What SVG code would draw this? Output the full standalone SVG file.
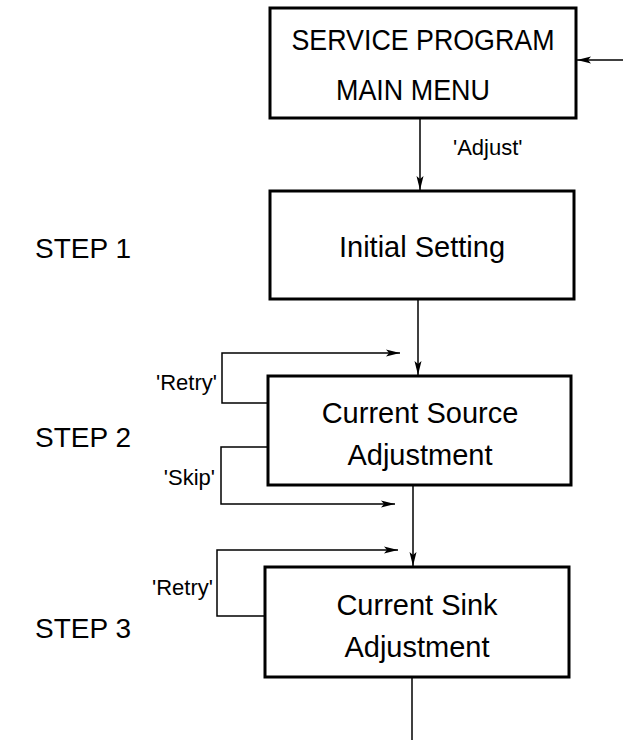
<svg xmlns="http://www.w3.org/2000/svg" width="623" height="740" viewBox="0 0 623 740">
<defs>
<marker id="ah" viewBox="0 0 14 8" refX="14" refY="4" markerWidth="14" markerHeight="8" markerUnits="userSpaceOnUse" orient="auto">
<path d="M0,0.5 L14,4 L0,7.5 L3,4 Z" fill="#000"/>
</marker>
<style>
.box{fill:#fff;stroke:#000;stroke-width:3}
.ln{fill:none;stroke:#000;stroke-width:1.5}
.bt{font-family:"Liberation Sans",Arial,sans-serif;font-size:29px;fill:#000;text-anchor:middle}
.lb{font-family:"Liberation Sans",Arial,sans-serif;font-size:22px;fill:#000}
.st{font-family:"Liberation Sans",Arial,sans-serif;font-size:28px;fill:#000}
</style>
</defs>
<rect width="623" height="740" fill="#fff"/>
<g id="connectors">
<line class="ln" x1="623" y1="60" x2="577" y2="60" marker-end="url(#ah)"/>
<line class="ln" x1="420" y1="118" x2="420" y2="190" marker-end="url(#ah)"/>
<line class="ln" x1="418" y1="299" x2="418" y2="375" marker-end="url(#ah)"/>
<line class="ln" x1="413" y1="485" x2="413" y2="566" marker-end="url(#ah)"/>
<line class="ln" x1="412" y1="677" x2="412" y2="740"/>
<polyline class="ln" points="268,403 222,403 222,353 400,353" marker-end="url(#ah)"/>
<polyline class="ln" points="268,447 221,447 221,504 395,504" marker-end="url(#ah)"/>
<polyline class="ln" points="265,616 217,616 217,550 398,550" marker-end="url(#ah)"/>
<text class="lb" x="453" y="155">'Adjust'</text>
<text class="lb" x="217" y="390" text-anchor="end">'Retry'</text>
<text class="lb" x="215" y="485" text-anchor="end">'Skip'</text>
<text class="lb" x="213" y="595" text-anchor="end">'Retry'</text>
</g>
<g id="main-menu">
<rect class="box" x="270" y="8" width="306" height="110"/>
<text class="bt" x="423" y="50" textLength="263" lengthAdjust="spacingAndGlyphs">SERVICE PROGRAM</text>
<text class="bt" x="413" y="100" textLength="154" lengthAdjust="spacingAndGlyphs">MAIN MENU</text>
</g>
<g id="initial-setting">
<rect class="box" x="270" y="191" width="304" height="108"/>
<text class="bt" x="422" y="257">Initial Setting</text>
</g>
<g id="current-source">
<rect class="box" x="268" y="376" width="303" height="109"/>
<text class="bt" x="420" y="423">Current Source</text>
<text class="bt" x="420" y="465">Adjustment</text>
</g>
<g id="current-sink">
<rect class="box" x="265" y="567" width="304" height="110"/>
<text class="bt" x="417" y="615">Current Sink</text>
<text class="bt" x="417" y="657">Adjustment</text>
</g>
<g id="steps">
<text class="st" x="35" y="258">STEP 1</text>
<text class="st" x="35" y="447">STEP 2</text>
<text class="st" x="35" y="638">STEP 3</text>
</g>
</svg>
